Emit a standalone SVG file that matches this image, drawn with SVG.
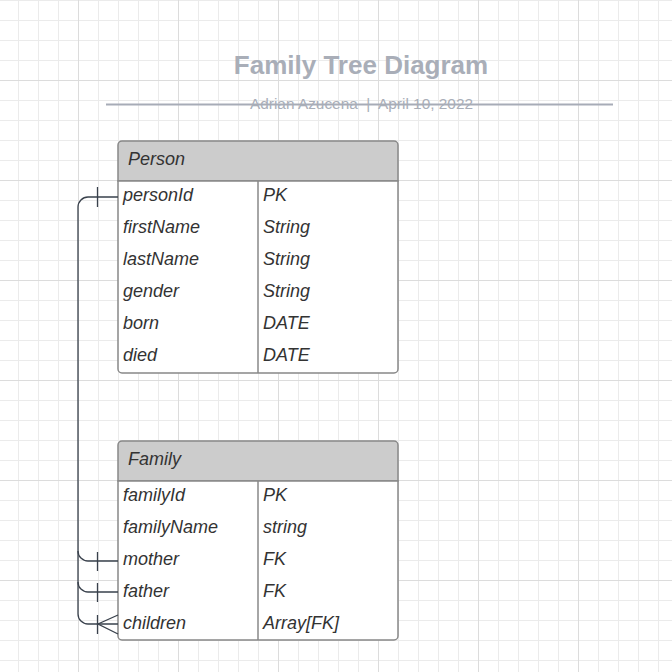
<svg xmlns="http://www.w3.org/2000/svg" width="672" height="672" viewBox="0 0 672 672">
<defs>
<pattern id="minor" x="18" y="0" width="20" height="20" patternUnits="userSpaceOnUse">
<path d="M0.5 0V20M0 0.5H20" fill="none" stroke="#ebebeb" stroke-width="1"/>
</pattern>
<pattern id="major" x="78" y="80" width="100" height="100" patternUnits="userSpaceOnUse">
<path d="M0.5 0V100M0 0.5H100" fill="none" stroke="#dcdcdc" stroke-width="1"/>
</pattern>
</defs>
<style>
.t{font-family:"Liberation Sans",Arial,sans-serif;font-style:italic;font-size:18px;fill:#333}
.box{fill:#fff;stroke:#888;stroke-width:1.5}
.hdr{fill:#cccccc;stroke:#888;stroke-width:1.5}
.div{stroke:#888;stroke-width:1.5;fill:none}
.c{fill:none;stroke:#39414c;stroke-width:1.3}
</style>
<rect width="672" height="672" fill="#fff"/>
<rect width="672" height="672" fill="url(#minor)"/>
<rect width="672" height="672" fill="url(#major)"/>

<g id="title">
<text x="361" y="74" text-anchor="middle" font-family="Liberation Sans,Arial,sans-serif" font-weight="bold" font-size="26" fill="#a9aeb8">Family Tree Diagram</text>
<line x1="106" y1="104.5" x2="613" y2="104.5" stroke="#a7acb7" stroke-width="2"/>
<text x="361.5" y="109" text-anchor="middle" xml:space="preserve" font-family="Liberation Sans,Arial,sans-serif" font-size="15.4" fill="#a9aeb8">Adrian Azucena  |  April 10, 2022</text>
</g>

<g id="person">
<path class="hdr" d="M118 181V145a4 4 0 0 1 4-4H394a4 4 0 0 1 4 4V181Z"/>
<path class="box" d="M118 181H398V369a4 4 0 0 1-4 4H122a4 4 0 0 1-4-4Z"/>
<line class="div" x1="258" y1="181" x2="258" y2="373"/>
<text class="t" x="128" y="164.5">Person</text>
<text class="t" x="123" y="200.5">personId</text><text class="t" x="263" y="200.5">PK</text>
<text class="t" x="123" y="232.5">firstName</text><text class="t" x="263" y="232.5">String</text>
<text class="t" x="123" y="264.5">lastName</text><text class="t" x="263" y="264.5">String</text>
<text class="t" x="123" y="296.5">gender</text><text class="t" x="263" y="296.5">String</text>
<text class="t" x="123" y="328.5">born</text><text class="t" x="263" y="328.5">DATE</text>
<text class="t" x="123" y="360.5">died</text><text class="t" x="263" y="360.5">DATE</text>
</g>

<g id="family">
<path class="hdr" d="M118 481V445a4 4 0 0 1 4-4H394a4 4 0 0 1 4 4V481Z"/>
<path class="box" d="M118 481H398V636a4 4 0 0 1-4 4H122a4 4 0 0 1-4-4Z"/>
<line class="div" x1="258" y1="481" x2="258" y2="640"/>
<text class="t" x="128" y="464.5">Family</text>
<text class="t" x="123" y="500.5">familyId</text><text class="t" x="263" y="500.5">PK</text>
<text class="t" x="123" y="532.5">familyName</text><text class="t" x="263" y="532.5">string</text>
<text class="t" x="123" y="564.5">mother</text><text class="t" x="263" y="564.5">FK</text>
<text class="t" x="123" y="596.5">father</text><text class="t" x="263" y="596.5">FK</text>
<text class="t" x="123" y="629">children</text><text class="t" x="263" y="629">Array[FK]</text>
</g>

<g id="connectors">
<path class="c" d="M118 197H88a10 10 0 0 0-10 10V614a10 10 0 0 0 10 10H118"/>
<path class="c" d="M78 551a10 10 0 0 0 10 10H118"/>
<path class="c" d="M78 582a10 10 0 0 0 10 10H118"/>
<path class="c" d="M97.5 187V207"/>
<path class="c" d="M97.5 552V571"/>
<path class="c" d="M97.5 583V602"/>
<path class="c" d="M97.5 615V634"/>
<path class="c" d="M118 615L98 624L118 634"/>
</g>
</svg>
